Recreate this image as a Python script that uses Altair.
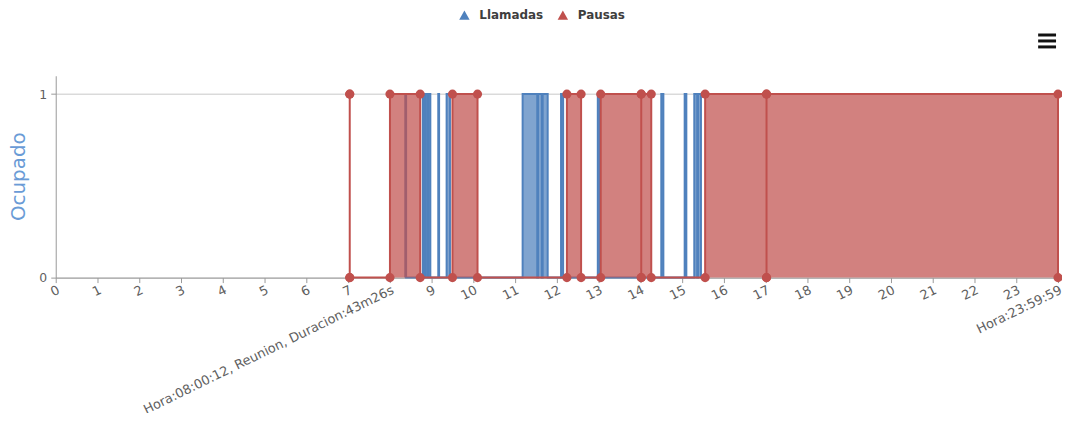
import json
import altair as alt
import pandas as pd

# ---- data (hours of day) ----
series = ["Llamadas", "Pausas"]
colores = ["#4F81BD", "#C0504D"]

llamadas_inicio = [8.37, 8.79, 8.85, 8.92, 9.16, 9.36, 11.18, 11.55, 11.66, 12.10, 12.98, 14.50, 15.06, 15.29, 15.38]
llamadas_fin = [8.39, 8.83, 8.90, 8.97, 9.18, 9.44, 11.53, 11.64, 11.78, 12.15, 13.03, 14.55, 15.10, 15.36, 15.45]

pausas_inicio = [7.04, 8.003, 9.50, 12.24, 13.05, 14.02, 15.55, 17.02]
pausas_fin = [7.04, 8.727, 10.10, 12.58, 14.02, 14.26, 17.02, 23.9997]

tick_values = list(range(25))
tick_labels = ["0", "1", "2", "3", "4", "5", "6", "7",
               "Hora:08:00:12, Reunion, Duracion:43m26s",
               "9", "10", "11", "12", "13", "14", "15", "16", "17", "18", "19",
               "20", "21", "22", "23", "Hora:23:59:59"]

# ---- build tables ----
rows_int = []
rows_pts = []
for serie, ini, fin in [("Llamadas", llamadas_inicio, llamadas_fin), ("Pausas", pausas_inicio, pausas_fin)]:
    k = 0
    for a, b in zip(ini, fin):
        rows_int.append({"serie": serie, "inicio": a, "fin": b, "cero": 0, "uno": 1})
        for h, o in [(a, 0), (a, 1), (b, 1), (b, 0)]:
            rows_pts.append({"serie": serie, "hora": h, "ocupado": o, "orden": k})
            k += 1
intervalos = pd.DataFrame(rows_int)
puntos = pd.DataFrame(rows_pts)

FONT = "DejaVu Sans"
label_expr = "[" + ",".join(json.dumps(t) for t in tick_labels) + "][round(datum.value)]"

xscale = alt.Scale(domain=[0, 24], nice=False, zero=False)
yscale = alt.Scale(domain=[0, 1.1], nice=False)
xaxis = alt.Axis(values=tick_values, labelExpr=label_expr, labelAngle=-26, labelAlign="right",
                 labelBaseline="top", labelFont=FONT, labelFontSize=13, labelColor="#606060",
                 tickColor="#999999", domainColor="#999999", tickSize=5, labelPadding=1,
                 grid=False, title=None, labelOverlap=False, labelFlush=False, labelBound=False,
                 labelLimit=0)
yaxis = alt.Axis(values=[0, 1], format="d", title="Ocupado", titleColor="#6A9BD6", titleFont=FONT,
                 titleFontSize=20, titleFontWeight="normal", titleX=-27, titleY=101,
                 labelFont=FONT, labelFontSize=12.5, labelColor="#606060", grid=True,
                 gridColor="#C8C8C8", domainColor="#999999", tickColor="#999999",
                 tickSize=5, labelPadding=4)
color_scale = alt.Scale(domain=series, range=colores)
legend = alt.Legend(orient="none", legendX=405, legendY=-67, direction="horizontal", title=None,
                    symbolType="triangle-up", symbolSize=110, symbolOpacity=1, symbolStrokeWidth=0,
                    labelFont=FONT, labelFontSize=12, labelFontWeight="bold", labelColor="#3E3E3E",
                    columnPadding=13, labelOffset=9, labelLimit=300)


def rect_layer(serie):
    return alt.Chart(intervalos).transform_filter(alt.datum.serie == serie).mark_rect(
        opacity=0.72, strokeWidth=0
    ).encode(
        x=alt.X("inicio:Q", scale=xscale, axis=xaxis),
        x2="fin:Q",
        y=alt.Y("uno:Q", scale=yscale, axis=yaxis),
        y2="cero:Q",
        color=alt.Color("serie:N", scale=color_scale, legend=legend),
    )


def line_layer(serie, color):
    return alt.Chart(puntos).transform_filter(alt.datum.serie == serie).mark_line(
        strokeWidth=2, color=color
    ).encode(
        x=alt.X("hora:Q", scale=xscale, axis=xaxis),
        y=alt.Y("ocupado:Q", scale=yscale, axis=yaxis),
        order="orden:Q",
    )


puntos_pausa = alt.Chart(puntos).transform_filter(alt.datum.serie == "Pausas").mark_circle(
    size=85, opacity=1, color=colores[1]
).encode(
    x=alt.X("hora:Q", scale=xscale, axis=xaxis),
    y=alt.Y("ocupado:Q", scale=yscale, axis=yaxis),
)


def menu_bar(ypix):
    return alt.Chart(pd.DataFrame({"k": [0]})).mark_rule(strokeWidth=3, color="#111111").encode(
        x=alt.value(988), x2=alt.value(1006), y=alt.value(ypix)
    )


chart = alt.layer(
    rect_layer("Llamadas"),
    line_layer("Llamadas", colores[0]),
    rect_layer("Pausas"),
    line_layer("Pausas", colores[1]),
    puntos_pausa,
    menu_bar(-41), menu_bar(-35), menu_bar(-29),
).properties(
    width=1008, height=203,
    autosize=alt.AutoSizeParams(type="none"),
    padding={"left": 48, "top": 67, "right": 4, "bottom": 135},
    background="white",
).configure_view(stroke=None)

chart.save("out.html", embed_options={"renderer": "svg", "actions": False})
